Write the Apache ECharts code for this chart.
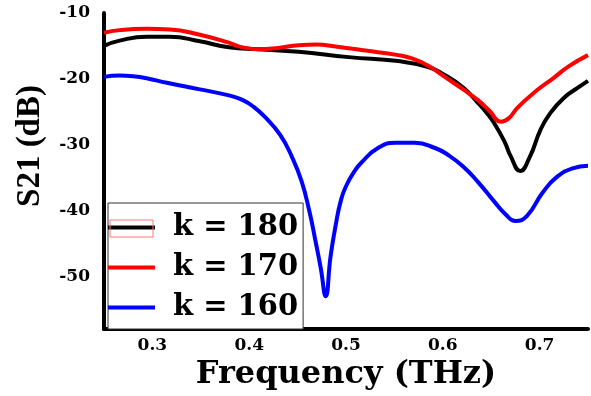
<!DOCTYPE html>
<html>
<head>
<meta charset="utf-8">
<script src="https://cdn.jsdelivr.net/npm/echarts@6/dist/echarts.min.js"></script>
<style>
html,body{margin:0;padding:0;background:#fff;}
#main{width:591px;height:396px;}
</style>
</head>
<body>
<div id="main"></div>
<script>
// frequency (THz) / S21 (dB)
var freq180 = [0.250,0.266,0.294,0.318,0.349,0.379,0.410,0.451,0.503,0.554,0.585,0.602,0.621,0.636,0.645,0.653,0.664,0.670,0.680,0.690,0.701,0.711,0.725,0.740,0.750];
var s180 = [-15.0,-14.2,-13.6,-13.6,-14.3,-15.2,-15.5,-15.9,-16.7,-17.3,-18.2,-19.4,-21.3,-23.6,-25.1,-26.7,-29.6,-31.7,-34.0,-31.8,-27.7,-25.2,-22.9,-21.3,-20.3];

var freq170 = [0.250,0.266,0.294,0.318,0.349,0.379,0.390,0.410,0.430,0.451,0.470,0.489,0.520,0.554,0.568,0.585,0.602,0.621,0.636,0.648,0.660,0.668,0.677,0.695,0.715,0.730,0.750];
var s170 = [-13.0,-12.6,-12.4,-12.5,-13.3,-14.5,-15.1,-15.5,-15.3,-14.9,-14.8,-15.1,-15.7,-16.4,-16.9,-18.0,-19.7,-21.6,-23.2,-24.8,-26.5,-26.0,-24.4,-22.0,-19.8,-18.1,-16.4];

var freq160 = [0.250,0.266,0.280,0.294,0.315,0.349,0.379,0.393,0.405,0.417,0.432,0.444,0.454,0.462,0.469,0.474,0.479,0.484,0.489,0.495,0.501,0.508,0.516,0.533,0.551,0.571,0.592,0.606,0.621,0.636,0.653,0.665,0.675,0.687,0.703,0.717,0.734,0.750];
var s160 = [-19.7,-19.5,-19.6,-19.9,-20.6,-21.6,-22.5,-23.2,-24.3,-25.9,-28.5,-31.8,-35.5,-40.0,-45.0,-48.8,-53.0,-47.0,-42.5,-38.3,-36.0,-34.2,-32.7,-30.5,-29.7,-29.7,-30.5,-31.6,-33.3,-35.6,-38.6,-40.6,-41.6,-40.8,-37.3,-35.0,-33.6,-33.2];

var names = ['k = 180','k = 170','k = 160'];
var colors = ['#000000','#ff0000','#0000ff'];

function pairs(x,y){
    var out = [];
    for(var i=0;i<x.length;i++){
        out.push([x[i],y[i]]);
    }
    return out;
}

var chart = echarts.init(document.getElementById('main'));
var serifB = 'DejaVu Serif';

var series = [];
var xs = [freq180,freq170,freq160];
var ys = [s180,s170,s160];
for(var k=0;k<names.length;k++){
    series.push({
        name:names[k],
        type:'line',
        smooth:true,
        symbol:'none',
        data:pairs(xs[k],ys[k]),
        itemStyle:{color:colors[k]},
        lineStyle:{color:colors[k],width:4}
    });
}

var option = {
    animation:false,
    backgroundColor:'#fff',
    grid:{
        left:104,
        right:0,
        top:13,
        bottom:66
    },
    xAxis:{
        type:'value',
        min:0.25,
        max:0.75,
        interval:0.05,
        axisLine:{lineStyle:{color:'#000',width:4}},
        axisTick:{show:false},
        splitLine:{show:false},
        axisLabel:{
            color:'#000',
            fontFamily:serifB,
            fontWeight:'bold',
            fontSize:17,
            margin:8,
            formatter:function(v){
                var n = Math.round(v*100);
                if(n%10!==0){return ''}
                return (n/100).toFixed(1);
            }
        },
        name:'Frequency (THz)',
        nameLocation:'middle',
        nameGap:26,
        nameTextStyle:{
            color:'#000',
            fontFamily:serifB,
            fontWeight:'bold',
            fontSize:32
        }
    },
    yAxis:{
        type:'value',
        min:-58,
        max:-10,
        interval:2,
        axisLine:{show:true,lineStyle:{color:'#000',width:4}},
        axisTick:{show:false},
        splitLine:{show:false},
        axisLabel:{
            color:'#000',
            fontFamily:serifB,
            fontWeight:'bold',
            fontSize:17,
            margin:14,
            formatter:function(v){
                if(Math.round(v)%10!==0){return ''}
                return String(Math.round(v));
            }
        }
    },
    legend:{
        left:108,
        top:203,
        orient:'vertical',
        icon:'rect',
        itemWidth:47,
        itemHeight:4,
        itemGap:9,
        padding:[9,5,6,0],
        borderColor:'#333',
        borderWidth:1,
        backgroundColor:'#fff',
        textStyle:{
            color:'#000',
            fontFamily:serifB,
            fontWeight:'bold',
            fontSize:29,
            lineHeight:31,
            padding:[0,0,0,13]
        },
        data:names
    },
    graphic:[
        {
            type:'text',
            x:30,
            y:146,
            rotation:Math.PI/2,
            style:{
                text:'S21 (dB)',
                fill:'#000',
                font:'bold 33px "Liberation Serif"',
                align:'center',
                verticalAlign:'middle'
            }
        },
        {
            type:'rect',
            z:100,
            shape:{x:110,y:220,width:43,height:17},
            style:{fill:'none',stroke:'#f77',lineWidth:1}
        }
    ],
    series:series
};
chart.setOption(option);
</script>
</body>
</html>
